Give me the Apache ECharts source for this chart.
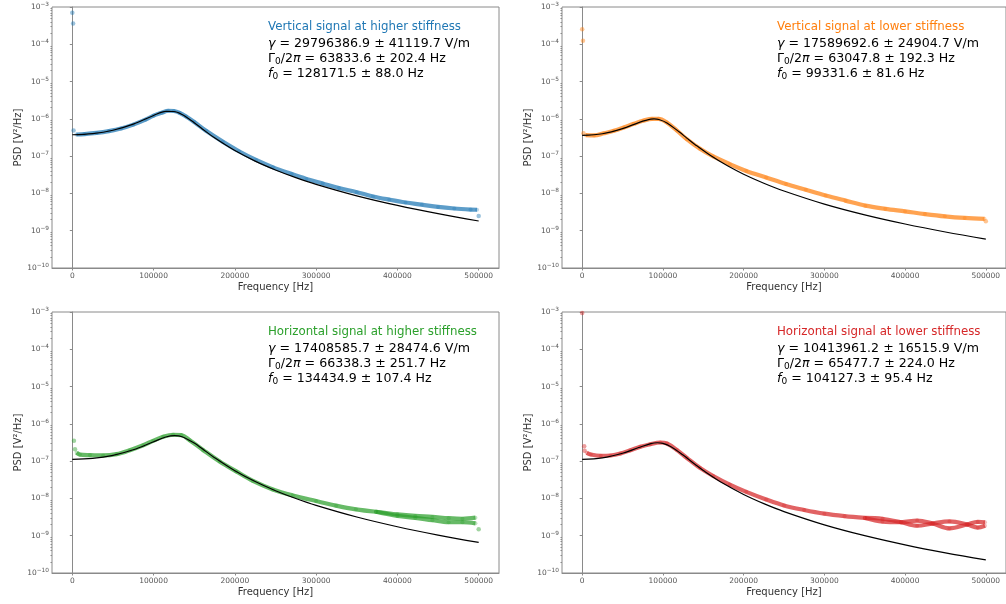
<!DOCTYPE html>
<html>
<head>
<meta charset="utf-8">
<script src="https://cdn.jsdelivr.net/npm/echarts@6/dist/echarts.min.js"></script>
<style>
  html, body { margin: 0; padding: 0; background: #ffffff; }
  #chart { width: 1006px; height: 604px; }
</style>
</head>
<body>
<div id="chart"></div>
<script>
// ---- Vertical signal, higher stiffness ----
const vHighFreq = [5000, 15000, 30000, 45000, 60000, 75000, 90000, 100000, 110000, 118000, 125000, 132000, 140000, 150000, 165000, 185000, 205000, 226000, 247000, 270000, 288000, 308000, 328000, 350000, 370000, 390000, 410000, 430000, 450000, 470000, 490000, 498000];
const vHighPsd = [3.8e-7, 3.9e-7, 4.2e-7, 4.7e-7, 5.5e-7, 7.0e-7, 9.5e-7, 1.22e-6, 1.45e-6, 1.65e-6, 1.62e-6, 1.45e-6, 1.15e-6, 8.2e-7, 4.7e-7, 2.45e-7, 1.35e-7, 7.9e-8, 5.0e-8, 3.3e-8, 2.45e-8, 1.85e-8, 1.4e-8, 1.08e-8, 8.3e-9, 6.8e-9, 5.7e-9, 5.0e-9, 4.35e-9, 3.95e-9, 3.7e-9, 3.65e-9];
const vHighLooseFreq = [0, 1000, 1500, 500000];
const vHighLoosePsd = [7.0e-4, 3.6e-4, 4.9e-7, 2.5e-9];
const vHighFitFreq = [0, 25000, 50000, 75000, 100000, 115000, 125000, 135000, 150000, 160000, 175000, 200000, 225000, 250000, 275000, 300000, 350000, 400000, 450000, 500000];
const vHighFit = [3.75e-7, 4.01e-7, 4.96e-7, 7.25e-7, 1.233e-6, 1.578e-6, 1.574e-6, 1.306e-6, 7.87e-7, 5.37e-7, 3.10e-7, 1.41e-7, 7.36e-8, 4.26e-8, 2.65e-8, 1.75e-8, 8.61e-9, 4.76e-9, 2.86e-9, 1.82e-9];

// ---- Vertical signal, lower stiffness ----
const vLowFreq = [4500, 14800, 27000, 39300, 51600, 63900, 76200, 86500, 94700, 104900, 117200, 129500, 145900, 162300, 182800, 203300, 227900, 252500, 277000, 301600, 326200, 350800, 375400, 400000, 424600, 449200, 473800, 498400];
const vLowPsd = [3.65e-7, 3.6e-7, 4.1e-7, 4.77e-7, 5.86e-7, 7.35e-7, 9.0e-7, 1.0e-6, 1.0e-6, 8.0e-7, 4.87e-7, 2.85e-7, 1.57e-7, 9.8e-8, 6.1e-8, 4.0e-8, 2.67e-8, 1.78e-8, 1.25e-8, 8.8e-9, 6.4e-9, 4.7e-9, 3.86e-9, 3.3e-9, 2.8e-9, 2.43e-9, 2.2e-9, 2.08e-9];
const vLowLooseFreq = [0, 1000, 1600, 500000];
const vLowLoosePsd = [2.52e-4, 1.25e-4, 4.13e-7, 1.8e-9];
const vLowFitFreq = [0, 25000, 50000, 70000, 85000, 89000, 95000, 105000, 120000, 130000, 140000, 160000, 180000, 200000, 225000, 250000, 300000, 350000, 400000, 450000, 500000];
const vLowFit = [3.6e-7, 3.99e-7, 5.46e-7, 7.94e-7, 9.82e-7, 9.94e-7, 9.58e-7, 7.76e-7, 4.5e-7, 3.0e-7, 2.03e-7, 1.003e-7, 5.5e-8, 3.28e-8, 1.88e-8, 1.161e-8, 5.17e-9, 2.66e-9, 1.512e-9, 9.24e-10, 5.97e-10];

// ---- Horizontal signal, higher stiffness ----
const hHighFreq = [5300, 9400, 21700, 38000, 54400, 70800, 87200, 99400, 111700, 124000, 134200, 144400, 160800, 181300, 201700, 222200, 246700, 271300, 299900, 324500, 349000, 373600];
const hHighPsd = [1.68e-7, 1.5e-7, 1.45e-7, 1.42e-7, 1.54e-7, 1.97e-7, 2.68e-7, 3.5e-7, 4.49e-7, 5.1e-7, 4.97e-7, 3.65e-7, 2.0e-7, 9.8e-8, 5.3e-8, 2.95e-8, 1.74e-8, 1.2e-8, 8.5e-9, 6.4e-9, 5.1e-9, 4.4e-9];
const hHighFreqA = [373600, 400000, 422000, 443000, 463000, 480000, 496000];
const hHighPsdA = [4.4e-9, 3.75e-9, 3.4e-9, 3.2e-9, 2.95e-9, 2.85e-9, 3.05e-9];
const hHighFreqB = [373600, 400000, 422000, 443000, 463000, 480000, 496000];
const hHighPsdB = [4.4e-9, 3.4e-9, 3.0e-9, 2.6e-9, 2.3e-9, 2.3e-9, 2.15e-9];
const hHighLooseFreq = [2000, 3300, 500000];
const hHighLoosePsd = [3.5e-7, 2.1e-7, 1.48e-9];
const hHighFitFreq = [0, 25000, 50000, 75000, 100000, 115000, 126000, 135000, 150000, 160000, 175000, 200000, 225000, 250000, 275000, 300000, 350000, 400000, 450000, 500000];
const hHighFit = [1.11e-7, 1.18e-7, 1.43e-7, 2.02e-7, 3.32e-7, 4.44e-7, 4.85e-7, 4.52e-7, 3.06e-7, 2.14e-7, 1.24e-7, 5.52e-8, 2.83e-8, 1.61e-8, 9.94e-9, 6.51e-9, 3.17e-9, 1.74e-9, 1.04e-9, 6.6e-10];

// ---- Horizontal signal, lower stiffness ----
const hLowFreq = [5700, 10700, 23000, 35000, 47500, 59800, 72000, 84400, 96700, 104900, 117200, 129500, 145900, 162300, 182800, 203300, 227900, 250000, 275000, 300000, 325000, 350000];
const hLowPsd = [1.67e-7, 1.51e-7, 1.39e-7, 1.42e-7, 1.6e-7, 1.97e-7, 2.42e-7, 2.85e-7, 3.16e-7, 2.97e-7, 2.0e-7, 1.23e-7, 6.6e-8, 4.0e-8, 2.35e-8, 1.5e-8, 9.4e-9, 6.5e-9, 4.9e-9, 3.9e-9, 3.35e-9, 3.0e-9];
const hLowFreqA = [350000, 372000, 395000, 415000, 434000, 455000, 477000, 490000, 499000];
const hLowPsdA = [3.0e-9, 2.85e-9, 2.3e-9, 1.85e-9, 2.13e-9, 2.42e-9, 2.0e-9, 1.65e-9, 1.85e-9];
const hLowFreqB = [350000, 372000, 395000, 415000, 434000, 455000, 477000, 490000, 499000];
const hLowPsdB = [3.0e-9, 2.4e-9, 2.3e-9, 2.55e-9, 2.13e-9, 1.57e-9, 2.0e-9, 2.35e-9, 2.3e-9];
const hLowLooseFreq = [0, 2500, 3000];
const hLowLoosePsd = [9.4e-4, 2.52e-7, 1.89e-7];
const hLowFitFreq = [0, 25000, 50000, 70000, 85000, 93000, 100000, 110000, 125000, 140000, 150000, 175000, 200000, 225000, 250000, 300000, 350000, 400000, 450000, 500000];
const hLowFit = [1.11e-7, 1.219e-7, 1.625e-7, 2.317e-7, 2.961e-7, 3.11e-7, 2.994e-7, 2.441e-7, 1.452e-7, 8.12e-8, 5.62e-8, 2.50e-8, 1.277e-8, 7.25e-9, 4.44e-9, 1.96e-9, 1.004e-9, 5.69e-10, 3.47e-10, 2.24e-10];

// ---- Axis ticks and annotation text ----
const xTicks = [0, 100000, 200000, 300000, 400000, 500000];
const panelTitles = ['Vertical signal at higher stiffness', 'Vertical signal at lower stiffness', 'Horizontal signal at higher stiffness', 'Horizontal signal at lower stiffness'];
const gammaText = ['29796386.9 ± 41119.7 V/m', '17589692.6 ± 24904.7 V/m', '17408585.7 ± 28474.6 V/m', '10413961.2 ± 16515.9 V/m'];
const widthText = ['63833.6 ± 202.4 Hz', '63047.8 ± 192.3 Hz', '66338.3 ± 251.7 Hz', '65477.7 ± 224.0 Hz'];
const f0Text = ['128171.5 ± 88.0 Hz', '99331.6 ± 81.6 Hz', '134434.9 ± 107.4 Hz', '104127.3 ± 95.4 Hz'];
const colors = ['#1f77b4', '#ff7f0e', '#2ca02c', '#d62728'];

const FONT = 'DejaVu Sans';
const zip = (xs, ys) => xs.map((x, i) => [x, ys[i]]);

// minor ticks of the log axis: 2..9 × 10^n
const minorTicks = [];
for (let e = -10; e < -3; e++) {
  for (let m = 2; m <= 9; m++) minorTicks.push(m * Math.pow(10, e));
}

// "10" with a raised exponent
function powLabel(v) {
  const e = Math.round(Math.log10(v));
  return '{b|10}{s|' + (e < 0 ? '\u2212' + (-e) : e) + '}';
}

const panels = [
  { bands: [zip(vHighFreq, vHighPsd)], loose: zip(vHighLooseFreq, vHighLoosePsd), fit: zip(vHighFitFreq, vHighFit) },
  { bands: [zip(vLowFreq, vLowPsd)], loose: zip(vLowLooseFreq, vLowLoosePsd), fit: zip(vLowFitFreq, vLowFit) },
  { bands: [zip(hHighFreq, hHighPsd), zip(hHighFreqA, hHighPsdA), zip(hHighFreqB, hHighPsdB)], loose: zip(hHighLooseFreq, hHighLoosePsd), fit: zip(hHighFitFreq, hHighFit) },
  { bands: [zip(hLowFreq, hLowPsd), zip(hLowFreqA, hLowPsdA), zip(hLowFreqB, hLowPsdB)], loose: zip(hLowLooseFreq, hLowLoosePsd), fit: zip(hLowFitFreq, hLowFit) }
];

const gridPos = [
  { left: 52, top: 7 }, { left: 562, top: 7 },
  { left: 52, top: 312 }, { left: 562, top: 312 }
];
const textPos = [
  { left: 268, top: 18 }, { left: 777, top: 18 },
  { left: 268, top: 323 }, { left: 777, top: 323 }
];

const axisGray = '#8a8a8a';
const labelGray = '#555';
const grid = [], xAxis = [], yAxis = [], series = [], title = [];

gridPos.forEach((g, i) => {
  grid.push({ left: g.left, top: g.top, width: 447, height: 261, show: true, borderColor: axisGray, borderWidth: 1, backgroundColor: 'transparent' });
  xAxis.push({
    gridIndex: i, type: 'value', min: -25000, max: 525000,
    name: 'Frequency [Hz]', nameLocation: 'middle', nameGap: 14,
    nameTextStyle: { fontFamily: FONT, fontSize: 10, color: '#333' },
    axisLine: { lineStyle: { color: axisGray, width: 1 } },
    axisTick: { customValues: xTicks, length: 2.5, lineStyle: { color: axisGray } },
    axisLabel: { customValues: xTicks, fontFamily: FONT, fontSize: 7.5, color: labelGray, margin: 4, formatter: v => String(v) },
    splitLine: { show: false }
  });
  yAxis.push({
    gridIndex: i, type: 'log', logBase: 10, min: 1e-10, max: 1e-3, splitNumber: 7,
    name: 'PSD [V²/Hz]', nameLocation: 'middle', nameGap: 28, nameRotate: 90,
    nameTextStyle: { fontFamily: FONT, fontSize: 10, color: '#333' },
    axisLine: { show: true, lineStyle: { color: axisGray, width: 1 } },
    axisTick: { length: 2.5, lineStyle: { color: axisGray } },
    axisLabel: {
      fontFamily: FONT, color: labelGray, margin: 3, formatter: powLabel,
      rich: {
        b: { fontFamily: FONT, fontSize: 7.5, lineHeight: 11, color: labelGray },
        s: { fontFamily: FONT, fontSize: 5.8, lineHeight: 6, verticalAlign: 'top', color: labelGray }
      }
    },
    splitLine: { show: false }
  });
});
// a second log axis on each grid carrying only the minor ticks
gridPos.forEach((g, i) => {
  yAxis.push({
    gridIndex: i, type: 'log', logBase: 10, min: 1e-10, max: 1e-3, position: 'left',
    axisLine: { show: false },
    axisTick: { show: true, customValues: minorTicks, length: 1.5, lineStyle: { color: axisGray } },
    axisLabel: { show: false },
    splitLine: { show: false }
  });
});

panels.forEach((p, i) => {
  const c = colors[i];
  p.bands.forEach(band => {
    series.push({
      type: 'line', xAxisIndex: i, yAxisIndex: i, data: band, smooth: 0.35,
      symbol: 'circle', symbolSize: 4, showAllSymbol: true,
      itemStyle: { color: c, opacity: 0.3 },
      lineStyle: { color: c, width: 4.2, opacity: 0.72 },
      z: 2, silent: true
    });
  });
  series.push({
    type: 'scatter', xAxisIndex: i, yAxisIndex: i, data: p.loose,
    symbol: 'circle', symbolSize: 4.5, itemStyle: { color: c, opacity: 0.45 }, z: 2, silent: true
  });
  series.push({
    type: 'line', xAxisIndex: i, yAxisIndex: i, data: p.fit, smooth: 0.35,
    symbol: 'none', lineStyle: { color: '#000', width: 1.2 }, z: 5, silent: true
  });
  title.push({
    left: textPos[i].left, top: textPos[i].top, padding: 0,
    text: '{t|' + panelTitles[i] + '}\n' +
          '{i|γ}{m| = ' + gammaText[i] + '}\n' +
          '{m|Γ}{sub|0}{m|/2}{i|π}{m| = ' + widthText[i] + '}\n' +
          '{i|f}{sub|0}{m| = ' + f0Text[i] + '}',
    textStyle: {
      fontFamily: FONT, fontSize: 12, fontWeight: 'normal', color: '#000', lineHeight: 15,
      rich: {
        t: { color: c, fontFamily: FONT, fontSize: 11.8, lineHeight: 18 },
        m: { fontFamily: FONT, fontSize: 12.6, lineHeight: 15, color: '#000' },
        i: { fontStyle: 'italic', fontFamily: FONT, fontSize: 12.6, lineHeight: 15, color: '#000' },
        sub: { fontFamily: FONT, fontSize: 9, lineHeight: 9, verticalAlign: 'bottom', color: '#000' }
      }
    }
  });
});

const chart = echarts.init(document.getElementById('chart'), null, { renderer: 'canvas' });
chart.setOption({ animation: false, backgroundColor: '#ffffff', title, grid, xAxis, yAxis, series });
</script>
</body>
</html>
